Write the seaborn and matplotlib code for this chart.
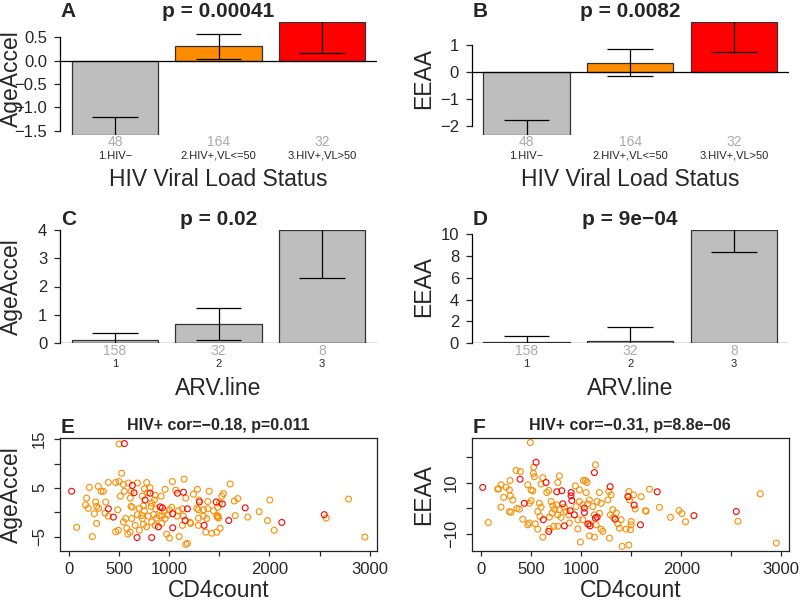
import numpy as np
import pandas as pd
import matplotlib
matplotlib.use('Agg')
import matplotlib.pyplot as plt
import matplotlib.transforms as mtransforms
import seaborn as sns

sns.set_theme(style='white')
plt.rcParams['font.family'] = ['Liberation Sans', 'DejaVu Sans']
plt.rcParams['axes.unicode_minus'] = True

# ---- bar panels (A-D) ----
vl_groups = ['1.HIV−', '2.HIV+,VL<=50', '3.HIV+,VL>50']
vl_counts = [48, 164, 32]
vl_colors = ['#BEBEBE', '#FF8C00', '#FF0000']
age_vl_mean = [-1.585, 0.30, 0.83]
age_vl_se = [0.385, 0.26, 0.67]
eeaa_vl_mean = [-2.32, 0.35, 1.87]
eeaa_vl_se = [0.56, 0.51, 1.14]

arv_groups = ['1', '2', '3']
arv_counts = [158, 32, 8]
arv_colors = ['#BEBEBE', '#BEBEBE', '#BEBEBE']
age_arv_mean = [0.10, 0.68, 4.0]
age_arv_se = [0.26, 0.57, 1.70]
eeaa_arv_mean = [0.12, 0.22, 10.4]
eeaa_arv_se = [0.56, 1.24, 2.05]

# ---- scatter panels (E, F): CD4count vs AgeAccel / EEAA, HIV+ only ----
e_orange_x = [497, 523, 1147, 1030, 390, 463, 497, 590, 680, 773, 540, 200, 290, 807, 957,
              1063, 1280, 1397, 340, 317, 550, 750, 783, 617, 173, 510, 610, 730, 857, 917,
              850, 823, 1163, 1240, 1297, 1383, 1500, 363, 263, 163, 190, 273, 293, 483, 617,
              630, 700, 740, 750, 817, 863, 950, 1000, 1023, 1090, 1130, 1273, 1290, 1340, 1383,
              1440, 250, 357, 390, 563, 623, 680, 723, 730, 790, 840, 873, 897, 923, 957,
              983, 1077, 1140, 1207, 1290, 1340, 1373, 1473, 73, 273, 463, 490, 540, 573, 583,
              607, 657, 700, 740, 773, 823, 857, 923, 973, 1000, 1097, 1130, 1213, 1290, 1363,
              1423, 1473, 230, 1163, 1180, 1607, 1540, 1523, 1683, 1647, 2003, 2790, 1483, 1897, 1657,
              1783, 1480, 1490, 1485, 1980, 2567, 1507, 2047, 2953]
e_orange_y = [14.0, 8.0, 6.8, 6.3, 6.1, 6.1, 6.3, 6.0, 6.0, 6.1, 5.7, 5.1, 5.3, 5.0, 4.7,
              4.5, 4.7, 4.3, 4.3, 4.3, 4.3, 4.8, 4.0, 4.3, 2.9, 3.3, 2.9, 3.3, 3.5, 3.3,
              2.5, 1.9, 2.9, 3.7, 2.5, 2.2, 1.9, 2.1, 2.1, 1.5, 0.8, 1.2, 0.8, 0.5, 1.2,
              1.0, 0.8, 1.3, 0.3, 1.2, 0.7, 0.3, 0.5, 1.0, 0.3, 0.7, 0.8, 0.5, 0.5, 0.7,
              0.3, -0.3, -0.2, -0.8, -1.3, -1.3, -0.5, -0.7, -1.3, -0.8, -0.5, -1.2, -0.7, -0.8, -1.3,
              -0.5, -0.8, -0.8, -2.1, -1.2, -0.8, -1.3, -0.7, -3.1, -2.3, -4.0, -3.7, -2.0, -3.3, -4.5,
              -4.1, -2.7, -3.7, -2.5, -3.0, -2.0, -2.7, -2.3, -4.5, -5.3, -5.0, -2.7, -2.3, -2.7, -4.1,
              -4.3, -4.1, -5.0, -6.6, -6.4, 5.8, 3.8, 3.3, 2.8, 2.3, 2.5, 2.7, 1.0, 0.1, -0.7,
              -1.0, -1.0, -1.2, -0.8, -1.7, -1.2, -3.3, -3.7, -5.1]
e_red_x = [550, 630, 647, 807, 1140, 1080, 23, 757, 907, 930, 390, 1180, 1300, 1467, 440,
           1033, 1157, 890, 1033, 1347, 677, 823, 1530, 1757, 1593, 2123, 2547]
e_red_y = [14.1, 5.5, 4.0, 3.9, 4.1, 3.9, 4.3, 2.5, 1.1, 0.9, 0.7, 0.7, 2.1, 2.1, -1.0,
           -0.3, -1.7, -3.0, -3.2, -2.7, -5.2, -5.2, 1.7, 0.9, -1.7, -2.1, -0.5]

f_orange_x = [493, 1143, 350, 393, 527, 523, 533, 783, 617, 290, 767, 1023, 1043, 1060, 200,
              250, 167, 175, 283, 467, 500, 517, 600, 677, 657, 943, 983, 1050, 1183, 1277,
              1300, 1267, 1477, 1477, 227, 317, 293, 500, 483, 383, 360, 200, 283, 300, 73,
              583, 600, 567, 590, 700, 717, 733, 710, 683, 757, 783, 833, 850, 877, 767,
              800, 950, 983, 1017, 1067, 1083, 1117, 1160, 1200, 1183, 1133, 967, 1017, 1083, 1150,
              1200, 1217, 1283, 567, 543, 483, 417, 467, 617, 727, 683, 767, 883, 967, 993,
              1083, 1133, 1317, 1350, 1323, 1400, 1367, 1383, 1450, 1410, 1477, 1293, 1523, 1483, 1540,
              1600, 1683, 1643, 1650, 1783, 1893, 1977, 2007, 2043, 2567, 2790, 2950, 1500, 1500, 1493]
f_orange_y = [25.6, 16.9, 14.7, 14.3, 16.0, 13.6, 12.3, 12.6, 11.9, 10.8, 10.0, 10.8, 10.8, 10.0, 9.1,
              8.2, 7.4, 7.6, 7.1, 9.1, 7.1, 6.8, 9.4, 6.9, 6.1, 8.7, 7.1, 6.1, 6.1, 6.5,
              5.2, 3.2, 6.5, 4.5, 4.2, 3.2, 4.8, 2.9, 1.9, -0.4, -0.1, 0.4, -1.4, -1.6, -5.6,
              1.9, 0.4, -1.3, -3.2, 2.6, 0.9, -0.4, -1.9, -3.5, 1.3, -0.6, 0.4, -1.3, -2.6, -2.6,
              -3.6, 0.6, 2.6, 1.3, 1.7, 3.2, 0.6, 2.6, 1.9, -2.0, -2.6, -4.5, -4.5, -6.1, -6.5,
              -8.2, -9.1, -11.7, -8.2, -6.1, -5.8, -4.3, -6.5, -11.3, -7.1, -8.1, -7.1, -5.8, -8.1, -13.2,
              -10.8, -11.3, -0.6, -1.9, -3.6, -4.5, -6.1, -7.8, -8.2, -14.9, -14.4, -2.6, 5.2, 3.2, -0.3,
              4.5, 7.4, -1.0, -1.2, 0.3, -3.6, -0.9, -2.1, -5.3, -5.1, 5.6, -13.6, -5.2, -6.5, -8.4]
f_red_x = [550, 1133, 390, 650, 17, 757, 807, 900, 900, 907, 1290, 1467, 433, 817, 890,
           933, 1033, 1033, 1160, 1143, 1067, 1090, 833, 623, 677, 1340, 1760, 1530, 2127, 2550,
           1593]
f_red_y = [17.9, 13.9, 11.3, 10.0, 8.1, 6.4, 6.8, 6.1, 4.8, 3.0, 8.4, 4.5, 1.9, 1.7, -1.0,
           -2.6, 0.0, -1.7, -3.5, -3.9, -6.2, -6.9, -6.9, -4.5, -9.1, -4.3, 6.4, 1.2, -2.9, -1.3,
           -6.5]

fig = plt.figure(figsize=(8, 6.03), dpi=100)
W, H = 800, 603
aw, ah = 317, 113
lefts = [60, 471.7]
tops = [21.7, 230, 437.7]


def make_ax(col, row):
    return fig.add_axes([lefts[col] / W, 1 - (tops[row] + ah) / H, aw / W, ah / H])


def bar_panel(ax, groups, means, ses, counts, colors, ylim, yticks, ylabels, ylab, xlab, title):
    df = pd.DataFrame({'g': groups, 'm': means})
    sns.barplot(data=df, x='g', y='m', hue='g', palette=colors, legend=False,
                width=1 / 1.2, saturation=1, edgecolor='#333333', linewidth=0.9,
                errorbar=None, ax=ax)
    for i, (m, s) in enumerate(zip(means, ses)):
        ax.vlines(i, m - s, m + s, color='black', lw=0.9)
        ax.hlines([m - s, m + s], i - 0.22, i + 0.22, color='black', lw=0.9)
    ax.axhline(0, color='black', lw=0.9)
    ax.set_xlim(-0.53, 2.53)
    ax.set_ylim(*ylim)
    ax.set_yticks(yticks)
    ax.set_yticklabels(ylabels, fontsize=12)
    ax.set_xticks(range(len(groups)))
    ax.set_xticklabels(groups, fontsize=8)
    ax.tick_params(axis='x', length=0, pad=11.5)
    ax.tick_params(axis='y', length=4.6, width=0.9, pad=4.5, direction='out', left=True)
    for sp in ['top', 'right', 'bottom']:
        ax.spines[sp].set_visible(False)
    ax.spines['left'].set_bounds(yticks[0], yticks[-1])
    ax.spines['left'].set_color('black')
    ax.spines['left'].set_linewidth(0.9)
    trans = mtransforms.blended_transform_factory(ax.transData, ax.transAxes) + \
        mtransforms.ScaledTranslation(0, -11.8 / 100, fig.dpi_scale_trans)
    for i, n in enumerate(counts):
        ax.text(i, 0, str(n), transform=trans, ha='center', va='baseline',
                fontsize=10, color='#ABABAB')
    ax.set_ylabel(ylab, fontsize=16.5)
    ax.yaxis.set_label_coords(-0.153, 0.5)
    ax.yaxis.label.set_va('center')
    ax.set_xlabel(xlab, fontsize=16.5)
    ax.xaxis.set_label_coords(0.5, -51.7 / ah)
    ax.xaxis.label.set_va('baseline')
    ax.set_title(title, fontsize=15, fontweight='bold', pad=3.6)


def scatter_panel(ax, ox, oy, rx, ry, ylim, yticks, ylabels, ylab, title):
    sns.scatterplot(x=ox, y=oy, ax=ax, color='#FF8C00', facecolor='none',
                    edgecolor='#FF8C00', s=18, linewidth=0.8)
    sns.scatterplot(x=rx, y=ry, ax=ax, color='#FF0000', facecolor='none',
                    edgecolor='#FF0000', s=18, linewidth=0.8)
    ax.set_xlim(-93, 3074)
    ax.set_ylim(*ylim)
    ax.set_xticks([0, 500, 1000, 1500, 2000, 2500, 3000])
    ax.set_xticklabels(['0', '500', '1000', '', '2000', '', '3000'], fontsize=12)
    ax.set_yticks(yticks)
    ax.set_yticklabels(ylabels, fontsize=12, rotation=90, va='center')
    ax.tick_params(axis='x', length=3.4, width=0.9, pad=4.8, direction='out', bottom=True)
    ax.tick_params(axis='y', length=4.0, width=0.9, pad=5.3, direction='out', left=True)
    for sp in ax.spines.values():
        sp.set_color('#222222')
        sp.set_linewidth(0.9)
    ax.set_ylabel(ylab, fontsize=16.5)
    ax.yaxis.set_label_coords(-0.153, 0.5)
    ax.yaxis.label.set_va('center')
    ax.set_xlabel('CD4count', fontsize=16.5)
    ax.xaxis.set_label_coords(0.5, -46 / ah)
    ax.xaxis.label.set_va('baseline')
    ax.set_title(title, fontsize=11.5, fontweight='bold', pad=5.5)


axA = make_ax(0, 0)
bar_panel(axA, vl_groups, age_vl_mean, age_vl_se, vl_counts, vl_colors,
          (-1.585, 0.83), [-1.5, -1.0, -0.5, 0.0, 0.5], ['−1.5', '−1.0', '−0.5', '0.0', '0.5'],
          'AgeAccel', 'HIV Viral Load Status', 'p = 0.00041')
axB = make_ax(1, 0)
bar_panel(axB, vl_groups, eeaa_vl_mean, eeaa_vl_se, vl_counts, vl_colors,
          (-2.32, 1.87), [-2, -1, 0, 1], ['−2', '−1', '0', '1'],
          'EEAA', 'HIV Viral Load Status', 'p = 0.0082')
axC = make_ax(0, 1)
bar_panel(axC, arv_groups, age_arv_mean, age_arv_se, arv_counts, arv_colors,
          (0, 4.0), [0, 1, 2, 3, 4], ['0', '1', '2', '3', '4'],
          'AgeAccel', 'ARV.line', 'p = 0.02')
axD = make_ax(1, 1)
bar_panel(axD, arv_groups, eeaa_arv_mean, eeaa_arv_se, arv_counts, arv_colors,
          (0, 10.4), [0, 2, 4, 6, 8, 10], ['0', '2', '4', '6', '8', '10'],
          'EEAA', 'ARV.line', 'p = 9e−04')
axE = make_ax(0, 2)
scatter_panel(axE, e_orange_x, e_orange_y, e_red_x, e_red_y, (-7.9, 15.3),
              [-5, 0, 5, 10, 15], ['−5', '', '5', '', '15'],
              'AgeAccel', 'HIV+ cor=−0.18, p=0.011')
axF = make_ax(1, 2)
scatter_panel(axF, f_orange_x, f_orange_y, f_red_x, f_red_y, (-16.6, 27.5),
              [-10, 0, 10, 20], ['−10', '', '10', ''],
              'EEAA', 'HIV+ cor=−0.31, p=8.8e−06')

# panel letters
for letter, x, y in [('A', 60, 16.7), ('B', 473, 16.7), ('C', 61, 225),
                     ('D', 473, 225), ('E', 61, 433), ('F', 473, 433)]:
    fig.text(x / W, 1 - y / H, letter, fontsize=15, fontweight='bold', va='baseline')

fig.savefig('out.png', dpi=100, facecolor='white')
